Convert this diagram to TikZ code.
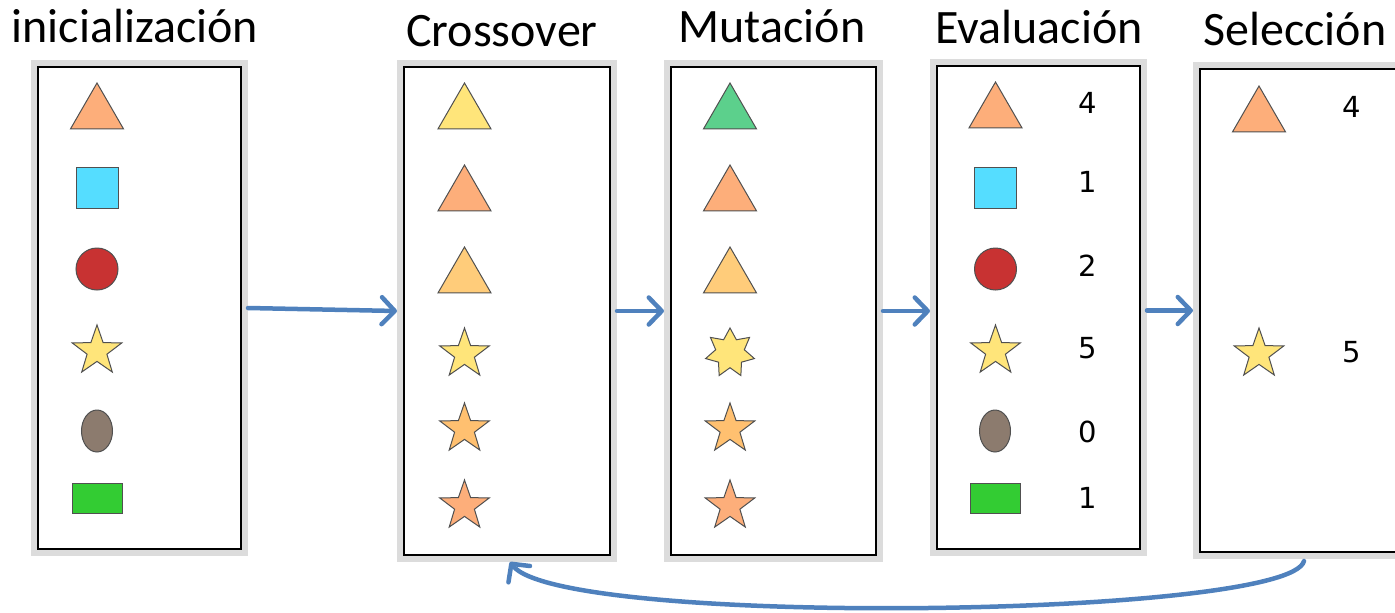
\documentclass[tikz,border=0pt]{standalone}
\usepackage{fontspec}
\setmainfont{Carlito}
\newfontfamily\digitfont{DejaVu Sans}
\usetikzlibrary{shapes.geometric,arrows.meta}
\definecolor{framegray}{HTML}{DCDCDC}
\definecolor{outl}{HTML}{505050}
\definecolor{arrowblue}{HTML}{4F81BD}
\definecolor{cPeach}{HTML}{FDAE7A}
\definecolor{cCyan}{HTML}{55DDFF}
\definecolor{cRed}{HTML}{C83232}
\definecolor{cYellow}{HTML}{FFE57A}
\definecolor{cBrown}{HTML}{8C7B6E}
\definecolor{cGreen}{HTML}{33CC33}
\definecolor{cLightOr}{HTML}{FFCC7A}
\definecolor{cStarOr}{HTML}{FFC070}
\definecolor{cMint}{HTML}{5CD08C}
\begin{document}
\begin{tikzpicture}[x=1pt,y=-1pt,
  panel/.style={draw=black, line width=2pt, fill=white, outer sep=7pt,
    preaction={draw=framegray, line width=14pt}, inner sep=0pt},
  shp/.style={draw=outl, line width=1pt, inner sep=0pt, outer sep=0pt},
  tri/.style={shp, regular polygon, regular polygon sides=3, minimum size=61pt},
  sq/.style={shp, rectangle, minimum width=42pt, minimum height=41pt},
  circ/.style={shp, circle, minimum size=42pt},
  starfive/.style={shp, star, star points=5, star point ratio=2.5, minimum size=52pt},
  starseven/.style={shp, star, star points=7, star point ratio=1.7, minimum size=50pt},
  oval/.style={shp, ellipse, minimum width=31pt, minimum height=42pt},
  gbar/.style={shp, rectangle, minimum width=50pt, minimum height=30pt},
  num/.style={font=\digitfont\fontsize{29}{29}\selectfont, inner sep=0pt},
  ttl/.style={font=\fontsize{48}{48}\selectfont, anchor=base, inner sep=0pt},
  conn/.style={draw=arrowblue, line width=4.5pt, line cap=round, line join=round,
    -{Straight Barb[length=13pt,width=27pt,line join=round,line cap=round]}}
]
\clip (0,0) rectangle (1395,613);
\useasboundingbox (0,0) rectangle (1395,613);

% titles
\node[ttl] (t1) at (135,42) {inicialización};
\node[ttl] (t2) at (502,46) {Crossover};
\node[ttl] (t3) at (772,42) {Mutación};
\node[ttl] (t4) at (1039,43) {Evaluación};
\node[ttl] (t5) at (1295,45) {Selección};

% panels
\node[panel, minimum width=203pt, minimum height=482pt] (b1) at (139.5,308) {};
\node[panel, minimum width=206pt, minimum height=488pt] (b2) at (507,311) {};
\node[panel, minimum width=205pt, minimum height=488pt] (b3) at (773.5,311) {};
\node[panel, minimum width=203pt, minimum height=483pt] (b4) at (1038.5,307.5) {};
\node[panel, minimum width=203pt, minimum height=483pt] (b5) at (1301.5,310.5) {};

% panel 1: initialization
\node[tri, fill=cPeach] (p1a) at (97,113.5) {};
\node[sq, fill=cCyan] (p1b) at (97,187.5) {};
\node[circ, fill=cRed] (p1c) at (97,269) {};
\node[starfive, fill=cYellow] (p1d) at (97,351) {};
\node[oval, fill=cBrown] (p1e) at (97,431) {};
\node[gbar, fill=cGreen] (p1f) at (97,498) {};

% panel 2: crossover
\node[tri, fill=cYellow] (p2a) at (464.5,113.5) {};
\node[tri, fill=cPeach] (p2b) at (464.5,195.5) {};
\node[tri, fill=cLightOr] (p2c) at (464.5,277.5) {};
\node[starfive, fill=cYellow] (p2d) at (464.5,354) {};
\node[starfive, fill=cStarOr] (p2e) at (464.5,429) {};
\node[starfive, fill=cPeach] (p2f) at (464.5,506) {};

% panel 3: mutation
\node[tri, fill=cMint] (p3a) at (730,113.5) {};
\node[tri, fill=cPeach] (p3b) at (730,195.5) {};
\node[tri, fill=cLightOr] (p3c) at (730,277.5) {};
\node[starseven, fill=cYellow] (p3d) at (730,353) {};
\node[starfive, fill=cStarOr] (p3e) at (730,429) {};
\node[starfive, fill=cPeach] (p3f) at (730,506) {};

% panel 4: evaluation
\node[tri, fill=cPeach] (p4a) at (995.5,112.5) {};
\node[sq, fill=cCyan] (p4b) at (995.5,187.5) {};
\node[circ, fill=cRed] (p4c) at (995.5,269) {};
\node[starfive, fill=cYellow] (p4d) at (995.5,351) {};
\node[oval, fill=cBrown] (p4e) at (995,431) {};
\node[gbar, fill=cGreen] (p4f) at (995,498) {};
\node[num] (n4a) at (1088,103) {4};
\node[num] (n4b) at (1088,182) {1};
\node[num] (n4c) at (1088,266) {2};
\node[num] (n4d) at (1088,348) {5};
\node[num] (n4e) at (1088,432) {0};
\node[num] (n4f) at (1088,498) {1};

% panel 5: selection
\node[tri, fill=cPeach] (p5a) at (1259,116.5) {};
\node[starfive, fill=cYellow] (p5d) at (1259,354) {};
\node[num] (n5a) at (1352,107) {4};
\node[num] (n5d) at (1352,352) {5};

% connectors
\draw[conn] (b1.east) -- (b2.west);
\draw[conn] (b2.east) -- (b3.west);
\draw[conn] (b3.east) -- (b3.east -| b4.west);
\draw[conn] (b4.east |- b5.west) -- (b5.west);
\coordinate (loopstart) at (1304,561);
\coordinate (loopend) at ([xshift=3pt]b2.south);
\draw[conn] (loopstart) .. controls (1290,618) and (560,628) .. (loopend);
\end{tikzpicture}
\end{document}
